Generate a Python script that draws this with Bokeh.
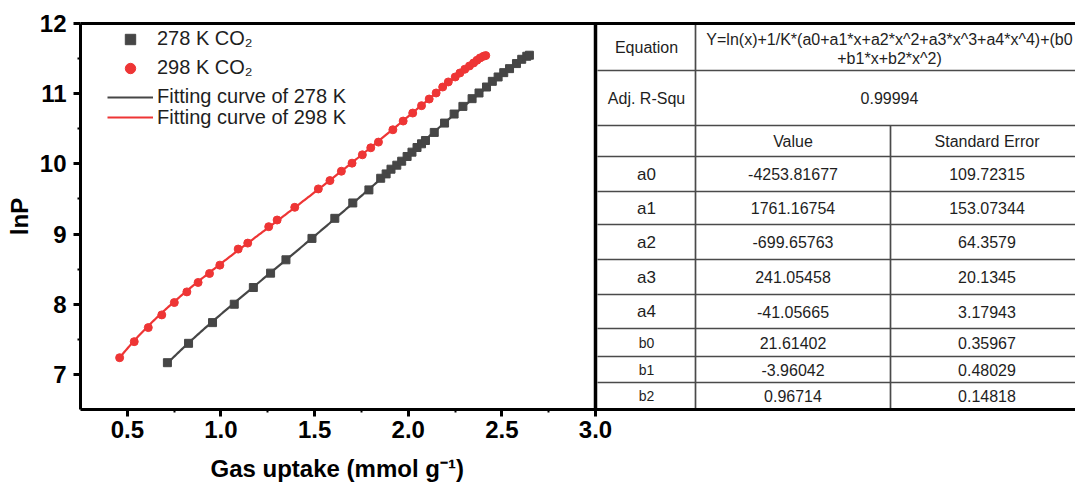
import numpy as np
from bokeh.plotting import figure
from bokeh.models import (Range1d, Legend, LegendItem, FixedTicker, LinearAxis,
                          Span, ColumnDataSource, Title, NumeralTickFormatter)
from bokeh.embed import file_html
from bokeh.resources import INLINE
from bokeh.core.properties import value

# CO2 isotherm points: ln(P) against gas uptake (mmol/g)
uptake_278 = [0.714, 0.827, 0.955, 1.071, 1.173, 1.265, 1.347, 1.486, 1.608, 1.704,
              1.790, 1.853, 1.882, 1.908, 1.939, 1.965, 1.994, 2.020, 2.047, 2.071,
              2.092, 2.139, 2.194, 2.245, 2.292, 2.341, 2.378, 2.418, 2.449, 2.480,
              2.510, 2.541, 2.578, 2.606, 2.633, 2.647]
lnp_278 = [7.167, 7.443, 7.738, 8.000, 8.238, 8.443, 8.633, 8.938, 9.224, 9.443,
           9.629, 9.795, 9.857, 9.924, 9.981, 10.038, 10.105, 10.167, 10.233, 10.286,
           10.333, 10.448, 10.581, 10.710, 10.819, 10.929, 11.010, 11.095, 11.176, 11.238,
           11.300, 11.357, 11.429, 11.490, 11.533, 11.548]

uptake_298 = [0.459, 0.537, 0.612, 0.684, 0.751, 0.818, 0.878, 0.939, 0.994, 1.092,
              1.143, 1.255, 1.300, 1.394, 1.520, 1.582, 1.643, 1.700, 1.755, 1.800,
              1.841, 1.918, 1.973, 2.024, 2.071, 2.112, 2.149, 2.184, 2.214, 2.251,
              2.276, 2.302, 2.327, 2.349, 2.367, 2.384, 2.402, 2.414]
lnp_298 = [7.238, 7.467, 7.667, 7.848, 8.024, 8.176, 8.310, 8.438, 8.557, 8.786,
           8.871, 9.105, 9.200, 9.381, 9.643, 9.762, 9.895, 10.010, 10.129, 10.229,
           10.310, 10.486, 10.610, 10.724, 10.829, 10.924, 11.010, 11.095, 11.167, 11.238,
           11.295, 11.348, 11.395, 11.438, 11.476, 11.510, 11.533, 11.543]

temperatures = [278, 298]

# Virial fit parameters and their standard errors
param_names = ["a0", "a1", "a2", "a3", "a4", "b0", "b1", "b2"]
param_values = [-4253.81677, 1761.16754, -699.65763, 241.05458, -41.05665,
                21.61402, -3.96042, 0.96714]
param_errors = [109.72315, 153.07344, 64.3579, 20.1345, 3.17943,
                0.35967, 0.48029, 0.14818]
adj_r_squared = "0.99994"
equation_lines = ["Y=ln(x)+1/K*(a0+a1*x+a2*x^2+a3*x^3+a4*x^4)+(b0",
                  "+b1*x+b2*x^2)"]

x_ticks = [0.5, 1.0, 1.5, 2.0, 2.5, 3.0]
x_minor = [0.75, 1.25, 1.75, 2.25, 2.75]
y_ticks = [7, 8, 9, 10, 11, 12]
y_minor = [7.5, 8.5, 9.5, 10.5, 11.5]


def virial(x, K):
    a = param_values[:5]
    b = param_values[5:]
    poly_a = sum(c * x ** i for i, c in enumerate(a))
    poly_b = sum(c * x ** i for i, c in enumerate(b))
    return np.log(x) + poly_a / K + poly_b


FONT = "Liberation Sans"
GREY = "#464646"
RED = "#EE3535"

W, H = 1075, 493
LEFT, TOP, BOTTOM = 80, 23, 84
PLOT_RIGHT = 595          # right edge of the isotherm panel (x = 3.0)
x_lo, x_hi = 0.25, 3.0
y_lo, y_hi = 6.5, 12.0
x_end = x_lo + (x_hi - x_lo) * (W - LEFT) / (PLOT_RIGHT - LEFT)
frame_h = H - BOTTOM - TOP

p = figure(width=W, height=H, x_range=Range1d(x_lo, x_end), y_range=Range1d(y_lo, y_hi),
           output_backend="svg", toolbar_location=None,
           min_border_left=LEFT, min_border_right=0,
           min_border_top=TOP, min_border_bottom=BOTTOM)
p.outline_line_color = None
p.xgrid.visible = False
p.ygrid.visible = False
p.background_fill_color = "white"

# pixel-like ranges for the parameter table on the right
p.extra_x_ranges = {"tbl": Range1d(LEFT, W)}
p.extra_y_ranges = {"tbl": Range1d(H - BOTTOM, TOP)}

for ax in (p.xaxis[0], p.yaxis[0]):
    ax.axis_line_width = 3
    ax.axis_line_color = "black"
    ax.major_tick_line_width = 3
    ax.major_tick_out = 7
    ax.major_tick_in = 0
    ax.minor_tick_line_width = 2
    ax.minor_tick_out = 3
    ax.minor_tick_in = 0
    ax.major_label_text_font = FONT
    ax.major_label_text_font_style = "bold"
    ax.major_label_text_font_size = "24px"
    ax.major_label_text_color = "black"
    ax.axis_label_text_font = FONT
    ax.axis_label_text_font_style = "bold"
    ax.axis_label_text_font_size = "24px"
    ax.axis_label_text_color = "black"

p.xaxis.ticker = FixedTicker(ticks=x_ticks, minor_ticks=x_minor)
p.xaxis.formatter = NumeralTickFormatter(format="0.0")
p.yaxis.ticker = FixedTicker(ticks=y_ticks, minor_ticks=y_minor)
p.yaxis.axis_label = "lnP"
p.xaxis.major_label_standoff = 4
p.yaxis.major_label_standoff = 7
p.yaxis.axis_label_standoff = 4

# x title, placed under the isotherm panel only
x_title = Title(text="Gas uptake (mmol g\u207b\u00b9)", align="left", offset=130,
                standoff=24, text_font=FONT, text_font_style="bold",
                text_font_size="24px", text_color="black")
p.add_layout(x_title, "below")

top_axis = LinearAxis(ticker=FixedTicker(ticks=[]), axis_line_width=3,
                      axis_line_color="black", major_tick_line_color=None,
                      minor_tick_line_color=None, major_label_text_font_size="0px")
p.add_layout(top_axis, "above")

p.add_layout(Span(location=x_hi, dimension="height", line_color="black", line_width=3.5))

# fitted curves from the table parameters
lines = []
for K, xs, color in ((temperatures[0], uptake_278, GREY), (temperatures[1], uptake_298, RED)):
    xf = np.linspace(min(xs), max(xs), 300)
    lines.append(p.line(xf, virial(xf, K), line_color=color, line_width=2.2))

pts_278 = p.scatter(uptake_278, lnp_278, marker="square", size=8,
                    fill_color=GREY, line_color=GREY)
pts_298 = p.scatter(uptake_298, lnp_298, marker="circle", size=8,
                    fill_color=RED, line_color=RED)

# one single-row legend per entry so each row sits at its own height
ROW_H = 26


def legend_row(label, renderer, center_px):
    top_px = center_px - ROW_H / 2
    leg = Legend(items=[LegendItem(label=label, renderers=[renderer])],
                 location=(27, frame_h - (top_px - TOP) - ROW_H),
                 orientation="vertical", spacing=0, padding=0, margin=0,
                 glyph_width=46, glyph_height=ROW_H, label_height=ROW_H,
                 label_standoff=4, border_line_color=None, background_fill_alpha=0,
                 label_text_font=FONT, label_text_font_size="20px",
                 label_text_color="#1e1e1e")
    p.add_layout(leg)


legend_row("278 K CO\u2082", pts_278, 38.5)
legend_row("298 K CO\u2082", pts_298, 67.5)
legend_row("Fitting curve of 278 K", lines[0], 96.5)
legend_row("Fitting curve of 298 K", lines[1], 117)

# ---- parameter table ----
col_edges = [597, 695, 890, 1083]
row_edges = [TOP, 70, 125, 156, 191, 224, 259, 294, 328, 356, 382, H - BOTTOM]
LINE = "#4a4a4a"

inner_rows = row_edges[1:-1]
p.segment(x0=[col_edges[0]] * len(inner_rows), x1=[W] * len(inner_rows),
          y0=inner_rows, y1=inner_rows, line_color=LINE, line_width=1.7,
          x_range_name="tbl", y_range_name="tbl")
p.segment(x0=[col_edges[1], col_edges[2]], x1=[col_edges[1], col_edges[2]],
          y0=[row_edges[0], row_edges[2]], y1=[row_edges[-1], row_edges[-1]],
          line_color=LINE, line_width=1.7, x_range_name="tbl", y_range_name="tbl")

c1 = (col_edges[0] + col_edges[1]) / 2
c2 = (col_edges[1] + col_edges[2]) / 2
c3 = (col_edges[2] + col_edges[3]) / 2
c23 = (col_edges[1] + col_edges[3]) / 2
centers = [(row_edges[i] + row_edges[i + 1]) / 2 for i in range(len(row_edges) - 1)]

tx, ty, tt, ts = [], [], [], []


def cell(x, y, text, size):
    tx.append(x); ty.append(y); tt.append(text); ts.append(size)


cell(c1, centers[0], "Equation", "16px")
cell(c23, centers[0] - 8, equation_lines[0], "16px")
cell(c23, centers[0] + 11.5, equation_lines[1], "16px")
cell(c1, centers[1], "Adj. R-Squ", "16px")
cell(c23, centers[1], adj_r_squared, "16px")
cell(c2, centers[2], "Value", "16px")
cell(c3, centers[2], "Standard Error", "16px")
for i, (name, v, e) in enumerate(zip(param_names, param_values, param_errors)):
    y = centers[3 + i]
    cell(c1, y, name, "17px" if name.startswith("a") else "14px")
    cell(c2, y, f"{v}", "16px")
    cell(c3, y, f"{e}", "16px")

tbl_src = ColumnDataSource(dict(x=tx, y=ty, text=tt, size=ts))
p.text(x="x", y="y", text="text", source=tbl_src, text_font_size="size",
       text_font=value(FONT), text_color="#1e1e1e", text_align="center",
       text_baseline="middle", x_range_name="tbl", y_range_name="tbl")

with open("out.html", "w") as f:
    f.write(file_html(p, INLINE))
